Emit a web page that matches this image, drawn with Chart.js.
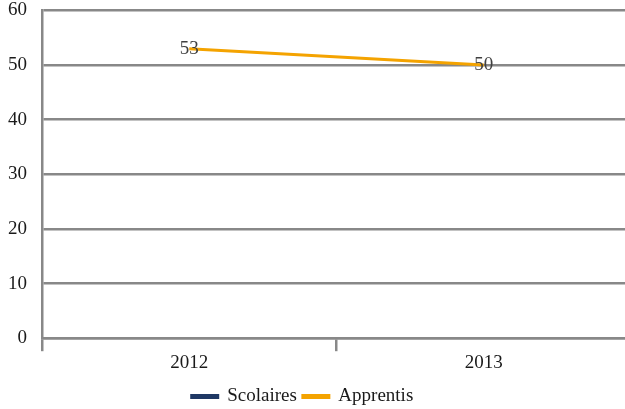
<!DOCTYPE html>
<html><head><meta charset="utf-8">
<script src="https://cdn.jsdelivr.net/npm/chart.js@4/dist/chart.umd.min.js"></script>
<style>html,body{margin:0;padding:0;background:#fff;overflow:hidden;width:625px;height:409px}#wrap{width:631px;height:425px;position:relative;top:-16px}</style>
</head><body><div id="wrap"><canvas id="c"></canvas></div>
<script>
const categories = ['2012', '2013'];
const scolaires = [null, null];
const apprentis = [53, 50];
const yTicks = [0, 10, 20, 30, 40, 50, 60];

const FONT = "'Liberation Serif', 'Times New Roman', serif";
const FS = 19;
const labelPlugin = {
  id: 'valueLabels',
  afterLayout(chart) {
    const lg = chart.legend;
    if (lg) { lg.left -= 13; lg.right -= 13; lg.top += 7; lg.bottom += 7; }
  },
  afterDatasetsDraw(chart) {
    const ctx = chart.ctx;
    ctx.save();
    ctx.font = FS + 'px ' + FONT;
    ctx.fillStyle = '#404040';
    ctx.textAlign = 'center';
    ctx.textBaseline = 'middle';
    chart.data.datasets.forEach((ds, i) => {
      const meta = chart.getDatasetMeta(i);
      meta.data.forEach((pt, j) => {
        const v = ds.data[j];
        if (v == null) return;
        ctx.fillText(String(v), pt.x, pt.y);
      });
    });
    ctx.restore();
  }
};

new Chart(document.getElementById('c'), {
  type: 'line',
  data: {
    labels: categories,
    datasets: [
      {label: 'Scolaires', data: scolaires, borderColor: '#1f3864', backgroundColor: '#1f3864', borderWidth: 3, pointRadius: 0},
      {label: 'Apprentis', data: apprentis, borderColor: '#f4a300', backgroundColor: '#f4a300', borderWidth: 3, pointRadius: 0, tension: 0}
    ]
  },
  options: {
    responsive: true, maintainAspectRatio: false, animation: false,
    layout: {padding: {top: 0, right: 0, left: 0, bottom: 0}},
    plugins: {
      legend: {
        position: 'bottom',
        labels: {font: {family: FONT, size: FS}, color: '#1a1a1a', boxWidth: 26, boxHeight: 2, padding: 6}
      },
      tooltip: {enabled: false}
    },
    scales: {
      x: {
        offset: true,
        grid: {offset: true, drawOnChartArea: false, drawTicks: true, tickLength: 13, color: '#888', lineWidth: 2.5},
        border: {display: true, color: '#888', width: 2.5},
        ticks: {font: {family: FONT, size: FS}, color: '#1a1a1a', padding: 0}
      },
      y: {
        min: 0, max: 60,
        afterBuildTicks(s) { s.ticks = yTicks.map(v => ({value: v})); },
        afterFit(s) { s.width = 42; },
        grid: {color: '#888', lineWidth: 2.5, drawTicks: false},
        border: {display: true, color: '#888', width: 2.5},
        ticks: {font: {family: FONT, size: FS}, color: '#1a1a1a', padding: 15}
      }
    }
  },
  plugins: [labelPlugin]
});
</script></body></html>
